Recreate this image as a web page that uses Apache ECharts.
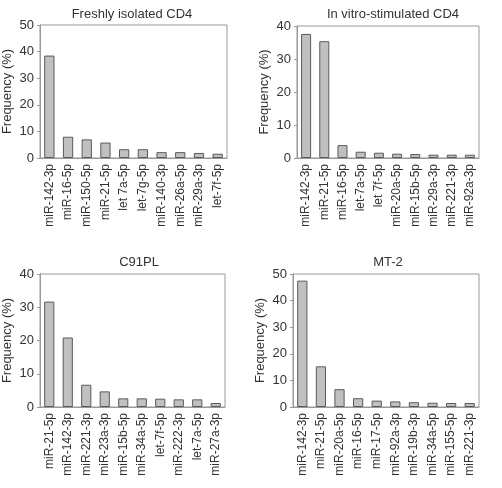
<!DOCTYPE html>
<html>
<head>
<meta charset="utf-8">
<script src="https://cdn.jsdelivr.net/npm/echarts@6/dist/echarts.min.js"></script>
<style>
  html, body { margin: 0; padding: 0; background: #fff; }
  #chart { width: 502px; height: 488px; }
</style>
</head>
<body>
<div id="chart"></div>
<script>
  // panel titles
  var titles = ['Freshly isolated CD4', 'In vitro-stimulated CD4', 'C91PL', 'MT-2'];

  // categories per panel
  var catsFresh = ['miR-142-3p', 'miR-16-5p', 'miR-150-5p', 'miR-21-5p', 'let 7a-5p', 'let-7g-5p', 'miR-140-3p', 'miR-26a-5p', 'miR-29a-3p', 'let-7f-5p'];
  var catsStim = ['miR-142-3p', 'miR-21-5p', 'miR-16-5p', 'let-7a-5p', 'let 7f-5p', 'miR-20a-5p', 'miR-15b-5p', 'miR-29a-3p', 'miR-221-3p', 'miR-92a-3p'];
  var catsC91 = ['miR-21-5p', 'miR-142-3p', 'miR-221-3p', 'miR-23a-3p', 'miR-15b-5p', 'miR-34a-5p', 'let-7f-5p', 'miR-222-3p', 'let-7a-5p', 'miR-27a-3p'];
  var catsMT2 = ['miR-142-3p', 'miR-21-5p', 'miR-20a-5p', 'miR-16-5p', 'miR-17-5p', 'miR-92a-3p', 'miR-19b-3p', 'miR-34a-5p', 'miR-155-5p', 'miR-221-3p'];

  // frequency (%) values
  var valsFresh = [38.5, 8.0, 7.0, 5.8, 3.3, 3.3, 2.2, 2.2, 1.9, 1.6];
  var valsStim = [37.6, 35.4, 3.9, 1.9, 1.6, 1.3, 1.2, 1.0, 1.0, 1.0];
  var valsC91 = [31.7, 20.9, 6.7, 4.7, 2.6, 2.6, 2.5, 2.3, 2.3, 1.2];
  var valsMT2 = [47.5, 15.3, 6.7, 3.3, 2.4, 2.1, 1.8, 1.6, 1.5, 1.5];

  // y axis max per panel
  var yMax = [50, 40, 40, 50];

  var cats = [catsFresh, catsStim, catsC91, catsMT2];
  var vals = [valsFresh, valsStim, valsC91, valsMT2];

  var grids = [
    {left: 40, top: 25, width: 187, height: 133},
    {left: 297, top: 26, width: 182, height: 132},
    {left: 40, top: 274, width: 185, height: 133},
    {left: 293, top: 274, width: 186, height: 133}
  ];
  var titlePos = [
    {x: 127, y: 3},
    {x: 388, y: 3},
    {x: 134, y: 251},
    {x: 383, y: 251}
  ];

  var myChart = echarts.init(document.getElementById('chart'), null, {renderer: 'canvas'});

  var option = {
    backgroundColor: '#fff',
    animation: false,
    textStyle: {fontFamily: 'Liberation Sans, Arial, sans-serif'},
    title: [],
    grid: [],
    xAxis: [],
    yAxis: [],
    series: []
  };

  for (var i = 0; i < 4; i++) {
    option.title.push({
      text: titles[i],
      left: titlePos[i].x,
      top: titlePos[i].y,
      textAlign: 'center',
      textStyle: {fontSize: 13, fontWeight: 'normal', color: '#333', fontFamily: 'Liberation Sans, Arial, sans-serif'}
    });
    option.grid.push({
      left: grids[i].left, top: grids[i].top, width: grids[i].width, height: grids[i].height,
      show: true, borderColor: '#999', borderWidth: 1, backgroundColor: 'transparent'
    });
    option.xAxis.push({
      type: 'category',
      gridIndex: i,
      data: cats[i],
      axisLine: {lineStyle: {color: '#999'}},
      axisTick: {show: false},
      axisLabel: {rotate: 90, fontSize: 12, color: '#333', margin: 6, interval: 0}
    });
    option.yAxis.push({
      type: 'value',
      gridIndex: i,
      min: 0,
      max: yMax[i],
      interval: 10,
      name: 'Frequency (%)',
      nameLocation: 'middle',
      nameGap: 26,
      nameTextStyle: {fontSize: 13, color: '#333'},
      axisLine: {show: true, lineStyle: {color: '#999'}},
      axisTick: {show: true, length: 3, lineStyle: {color: '#999'}},
      splitLine: {show: false},
      axisLabel: {fontSize: 13, color: '#333', margin: 6}
    });
    option.series.push({
      type: 'bar',
      xAxisIndex: i,
      yAxisIndex: i,
      data: vals[i],
      barWidth: '55%',
      itemStyle: {color: '#c0c0c0', borderColor: '#5a5a5a', borderWidth: 1}
    });
  }

  myChart.setOption(option);
</script>
</body>
</html>
